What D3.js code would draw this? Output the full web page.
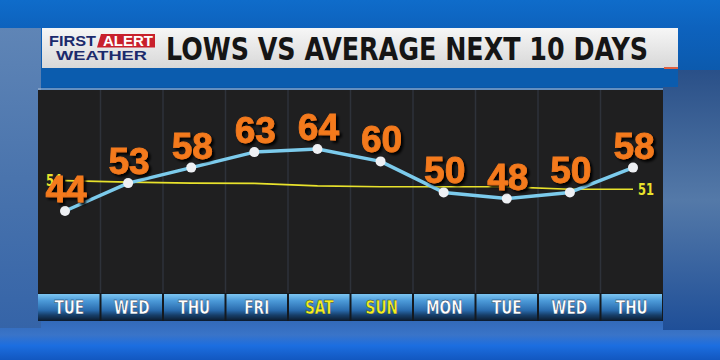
<!DOCTYPE html>
<html>
<head>
<meta charset="utf-8">
<script src="https://cdn.jsdelivr.net/npm/d3@7"></script>
<style>
  html, body { margin: 0; padding: 0; background: #0f5db5; }
  svg { display: block; }
</style>
</head>
<body>
<div id="chart"></div>
<script>
// data
const days = ["TUE", "WED", "THU", "FRI", "SAT", "SUN", "MON", "TUE", "WED", "THU"];
const weekend = [false, false, false, false, true, true, false, false, false, false];
const lows = [44, 53, 58, 63, 64, 60, 50, 48, 50, 58];
const avgLows = [53.8, 53.3, 53.0, 52.9, 52.1, 51.8, 51.8, 51.8, 51.0, 51.0];
const avgStartLabel = "54";
const avgEndLabel = "51";
const title = "LOWS VS AVERAGE NEXT 10 DAYS";

function renderLowsChart(containerId) {
  const container = d3.select(`#${containerId}`);
  container.selectAll("*").remove();

  const width = 720, height = 360;
  const panel = { left: 38, right: 663, top: 90, bottom: 293 };
  const narrow = "'Liberation Sans Narrow', 'DejaVu Sans Condensed', sans-serif";

  const svg = container.append("svg")
    .attr("width", width)
    .attr("height", height);

  const defs = svg.append("defs");

  const bg = defs.append("linearGradient").attr("id", "bg-grad")
    .attr("x1", 0).attr("y1", 0).attr("x2", 0).attr("y2", 1);
  [[0, "#0f6cca"], [0.08, "#0d62bd"], [0.25, "#0b56a6"], [0.5, "#183f74"],
   [0.85, "#2a5fa8"], [0.93, "#3a74c8"], [0.96, "#1c6ee0"], [1, "#1257c0"]]
    .forEach(([o, c]) => bg.append("stop").attr("offset", o).attr("stop-color", c));

  const sideL = defs.append("linearGradient").attr("id", "side-l")
    .attr("x1", 0).attr("y1", 0).attr("x2", 0).attr("y2", 1);
  sideL.append("stop").attr("offset", 0).attr("stop-color", "#5f85b6");
  sideL.append("stop").attr("offset", 0.5).attr("stop-color", "#4a74ad");
  sideL.append("stop").attr("offset", 1).attr("stop-color", "#3564a8");

  const sideR = defs.append("linearGradient").attr("id", "side-r")
    .attr("x1", 0).attr("y1", 0).attr("x2", 0).attr("y2", 1);
  sideR.append("stop").attr("offset", 0).attr("stop-color", "#2a5088");
  sideR.append("stop").attr("offset", 0.5).attr("stop-color", "#5479a8");
  sideR.append("stop").attr("offset", 1).attr("stop-color", "#1f4f98");

  const titleGrad = defs.append("linearGradient").attr("id", "title-grad")
    .attr("x1", 0).attr("y1", 0).attr("x2", 0).attr("y2", 1);
  titleGrad.append("stop").attr("offset", 0).attr("stop-color", "#f6f6f6");
  titleGrad.append("stop").attr("offset", 1).attr("stop-color", "#d8d8d8");

  const cellGrad = defs.append("linearGradient").attr("id", "cell-grad")
    .attr("x1", 0).attr("y1", 0).attr("x2", 0).attr("y2", 1);
  [[0, "#7cc6f2"], [0.25, "#4c9ad8"], [0.6, "#2a6cae"], [0.78, "#173f6a"], [1, "#0b1a2c"]]
    .forEach(([o, c]) => cellGrad.append("stop").attr("offset", o).attr("stop-color", c));

  const shadow = defs.append("filter").attr("id", "num-shadow")
    .attr("x", "-20%").attr("y", "-20%").attr("width", "140%").attr("height", "140%");
  shadow.append("feDropShadow")
    .attr("dx", 2.5).attr("dy", 2.5).attr("stdDeviation", 0.8)
    .attr("flood-color", "#000").attr("flood-opacity", 0.95);

  // background
  svg.append("rect").attr("width", width).attr("height", height).attr("fill", "url(#bg-grad)");
  svg.append("rect").attr("x", 0).attr("y", 28).attr("width", 41).attr("height", 300)
    .attr("fill", "url(#side-l)");
  svg.append("rect").attr("x", 663).attr("y", 70).attr("width", 57).attr("height", 260)
    .attr("fill", "url(#side-r)");

  // title band
  svg.append("rect").attr("x", 41).attr("y", 66).attr("width", 637).attr("height", 21)
    .attr("fill", "#0b5cae");
  svg.append("rect").attr("x", 42).attr("y", 28).attr("width", 636).attr("height", 40)
    .attr("fill", "url(#title-grad)");
  svg.append("rect").attr("x", 664).attr("y", 67).attr("width", 14).attr("height", 2)
    .attr("fill", "#e06040");

  // logo
  const logo = svg.append("g");
  logo.append("text").attr("x", 49).attr("y", 46)
    .attr("textLength", 47).attr("lengthAdjust", "spacingAndGlyphs")
    .style("font", "bold 15px 'Liberation Sans', Arial, sans-serif")
    .attr("fill", "#1c2a6c").text("FIRST");
  logo.append("path")
    .attr("d", "M101,34 L155,34 L155,47.5 L97,47.5 Z")
    .attr("fill", "#c8202c");
  logo.append("text").attr("x", 103).attr("y", 46)
    .attr("textLength", 50).attr("lengthAdjust", "spacingAndGlyphs")
    .style("font", "bold 14px 'Liberation Sans', Arial, sans-serif")
    .attr("fill", "#ffffff").text("ALERT");
  logo.append("text").attr("x", 56).attr("y", 59.5)
    .attr("textLength", 91).attr("lengthAdjust", "spacingAndGlyphs")
    .style("font", "bold 13px 'Liberation Sans', Arial, sans-serif")
    .attr("fill", "#1c2a6c").text("WEATHER");

  svg.append("text").attr("x", 166).attr("y", 60)
    .attr("textLength", 482).attr("lengthAdjust", "spacingAndGlyphs")
    .style("font", `bold 32px ${narrow}`)
    .attr("fill", "#151515").text(title);

  // chart panel
  svg.append("rect")
    .attr("x", panel.left).attr("y", panel.top)
    .attr("width", panel.right - panel.left).attr("height", panel.bottom - panel.top)
    .attr("fill", "#1f1f20");
  svg.append("line")
    .attr("x1", panel.left).attr("x2", panel.right)
    .attr("y1", panel.top - 1).attr("y2", panel.top - 1)
    .attr("stroke", "#9fb6d2").attr("stroke-width", 2).attr("opacity", 0.6);

  const idx = d3.range(days.length);
  const band = d3.scaleBand().domain(idx).range([panel.left, panel.right]).paddingInner(0);
  const x = d3.scalePoint().domain(idx).range([65, 633]);
  const y = d3.scaleLinear().domain([20, 80]).range([285.4, 99.4]);

  // column dividers
  svg.append("g").selectAll("line")
    .data(idx.slice(1))
    .join("line")
    .attr("x1", d => band(d)).attr("x2", d => band(d))
    .attr("y1", panel.top).attr("y2", panel.bottom)
    .attr("stroke", "#2e323a").attr("stroke-width", 1.5);

  // day bar
  svg.append("rect")
    .attr("x", panel.left).attr("y", panel.bottom)
    .attr("width", panel.right - panel.left).attr("height", 28)
    .attr("fill", "#14191f");
  const cells = svg.append("g").selectAll("g")
    .data(idx)
    .join("g");
  cells.append("rect")
    .attr("x", d => band(d) + (d === 0 ? 0 : 1))
    .attr("y", panel.bottom + 1)
    .attr("width", d => band.bandwidth() - (d === 0 ? 1 : 2))
    .attr("height", 27)
    .attr("fill", "url(#cell-grad)");
  cells.append("text")
    .attr("transform", d => `translate(${band(d) + band.bandwidth() / 2},${panel.bottom + 21}) scale(0.8,1)`)
    .attr("text-anchor", "middle")
    .style("font", `bold 19px ${narrow}`)
    .attr("fill", d => weekend[d] ? "#f5ee1e" : "#ffffff")
    .attr("stroke", "#0c2a4a").attr("stroke-width", 0.4)
    .text(d => days[d]);

  // average line
  const avgLine = d3.line().x((d, i) => x(i)).y(d => y(d));
  svg.append("path")
    .datum(avgLows)
    .attr("d", avgLine)
    .attr("fill", "none")
    .attr("stroke", "#e8e22c")
    .attr("stroke-width", 1.6);
  svg.append("text")
    .attr("transform", `translate(${x(0) - 3},${y(avgLows[0])}) scale(0.85,1)`)
    .attr("dy", "0.36em").attr("text-anchor", "end")
    .style("font", `bold 15px ${narrow}`)
    .attr("fill", "#e8e22c").text(avgStartLabel);
  svg.append("text")
    .attr("transform", `translate(${x(idx.length - 1) + 5},${y(avgLows[avgLows.length - 1])}) scale(0.85,1)`)
    .attr("dy", "0.36em").attr("text-anchor", "start")
    .style("font", `bold 15px ${narrow}`)
    .attr("fill", "#e8e22c").text(avgEndLabel);

  // lows line
  const lowLine = d3.line().x((d, i) => x(i)).y(d => y(d));
  svg.append("path")
    .datum(lows)
    .attr("d", lowLine)
    .attr("fill", "none")
    .attr("stroke", "#7ccbec")
    .attr("stroke-width", 3.5)
    .attr("stroke-linejoin", "round");
  svg.append("g").selectAll("circle")
    .data(lows)
    .join("circle")
    .attr("cx", (d, i) => x(i))
    .attr("cy", d => y(d))
    .attr("r", 5)
    .attr("fill", "#eef0f4");

  svg.append("g").selectAll("text")
    .data(lows)
    .join("text")
    .attr("x", (d, i) => x(i) + 1)
    .attr("y", d => y(d) - 9)
    .attr("text-anchor", "middle")
    .style("font", "bold 37px 'Liberation Sans', Arial, sans-serif")
    .attr("fill", "#f47a1e")
    .attr("stroke", "#f47a1e").attr("stroke-width", 0.8)
    .attr("filter", "url(#num-shadow)")
    .text(d => d);
}

renderLowsChart("chart");
</script>
</body>
</html>
